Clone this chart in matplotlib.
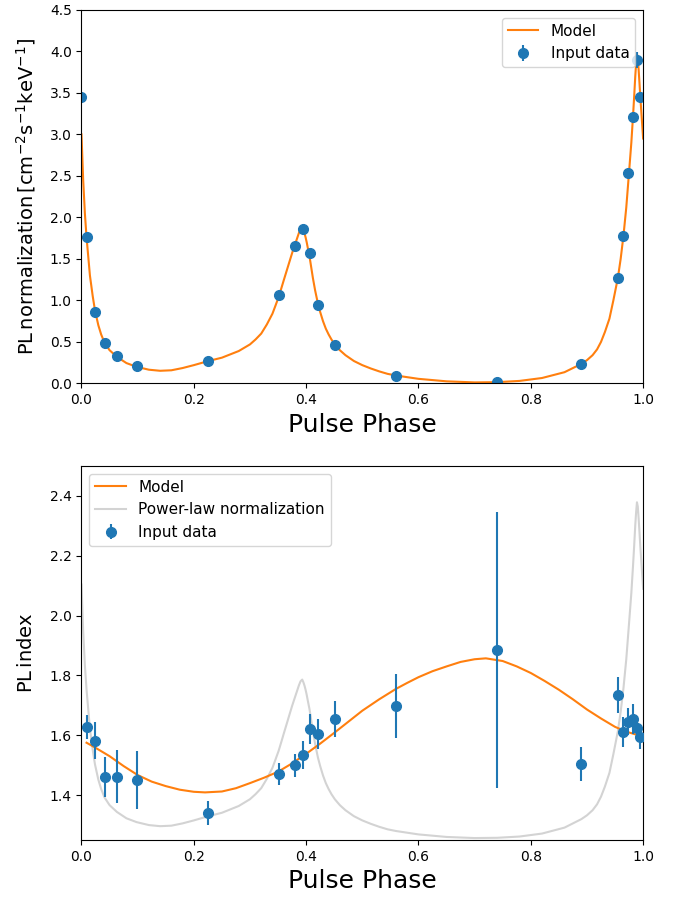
import numpy as np
import matplotlib
matplotlib.use("Agg")
import matplotlib.pyplot as plt

# measured phases (same for both panels, top has one extra point at 0.0)
phase = [0.009, 0.024, 0.041, 0.063, 0.098, 0.225, 0.351, 0.380, 0.395, 0.406,
         0.421, 0.451, 0.560, 0.7405, 0.8896, 0.955, 0.965, 0.973, 0.982, 0.989, 0.9947]

# PL normalization per phase bin
norm_phase = [0.0] + phase
norm_val = [3.455, 1.76, 0.86, 0.49, 0.33, 0.205, 0.273, 1.06, 1.65, 1.856, 1.57,
            0.95, 0.46, 0.088, 0.02, 0.233, 1.27, 1.77, 2.535, 3.21, 3.897, 3.455]
norm_err = [0.04, 0.04, 0.03, 0.02, 0.02, 0.02, 0.02, 0.03, 0.04, 0.04, 0.04,
            0.03, 0.02, 0.01, 0.01, 0.02, 0.03, 0.04, 0.05, 0.06, 0.10, 0.05]

# PL index per phase bin
index_val = [1.626, 1.581, 1.461, 1.461, 1.450, 1.341, 1.471, 1.500, 1.535, 1.622,
             1.604, 1.655, 1.698, 1.885, 1.503, 1.733, 1.612, 1.645, 1.653, 1.623, 1.595]
index_err = [0.040, 0.062, 0.067, 0.089, 0.096, 0.040, 0.037, 0.038, 0.047, 0.050,
             0.050, 0.060, 0.107, 0.460, 0.057, 0.060, 0.050, 0.045, 0.050, 0.040, 0.040]

# model curve for the normalization
norm_model_phase = [0.0, 0.003, 0.006, 0.009, 0.015, 0.02, 0.024, 0.03, 0.035, 0.041,
                    0.05, 0.063, 0.08, 0.098, 0.12, 0.14, 0.16, 0.18, 0.2, 0.225,
                    0.25, 0.28, 0.3, 0.31, 0.32, 0.33, 0.34, 0.345, 0.351, 0.356,
                    0.36, 0.365, 0.37, 0.375, 0.38, 0.384, 0.387, 0.39, 0.393, 0.395,
                    0.397, 0.399, 0.401, 0.403, 0.406, 0.409, 0.412, 0.416, 0.421, 0.425,
                    0.43, 0.435, 0.44, 0.445, 0.451, 0.46, 0.47, 0.485, 0.5, 0.515,
                    0.53, 0.545, 0.56, 0.6, 0.65, 0.7, 0.74, 0.78, 0.82, 0.86,
                    0.89, 0.9, 0.91, 0.918, 0.925, 0.932, 0.94, 0.947, 0.955, 0.96,
                    0.965, 0.97, 0.975, 0.979, 0.982, 0.984, 0.986, 0.9875, 0.989, 0.9905,
                    0.992, 0.9935, 0.995, 0.997, 1.0]
norm_model = [3.0, 2.45, 2.05, 1.76, 1.30, 1.05, 0.88, 0.70, 0.59, 0.49,
              0.40, 0.32, 0.245, 0.20, 0.165, 0.152, 0.158, 0.185, 0.22, 0.268,
              0.31, 0.39, 0.47, 0.53, 0.60, 0.71, 0.84, 0.93, 1.04, 1.15,
              1.24, 1.35, 1.46, 1.57, 1.67, 1.75, 1.81, 1.86, 1.88, 1.85,
              1.81, 1.76, 1.70, 1.63, 1.53, 1.40, 1.27, 1.12, 0.96, 0.86,
              0.75, 0.66, 0.59, 0.53, 0.47, 0.40, 0.34, 0.27, 0.22, 0.18,
              0.145, 0.115, 0.095, 0.055, 0.025, 0.012, 0.015, 0.03, 0.065, 0.135,
              0.235, 0.28, 0.34, 0.41, 0.50, 0.62, 0.78, 1.00, 1.27, 1.50,
              1.78, 2.12, 2.55, 2.90, 3.22, 3.45, 3.70, 3.85, 3.97, 3.92,
              3.78, 3.62, 3.45, 3.25, 2.95]

# model curve for the index
index_model_phase = [0.009, 0.025, 0.05, 0.075, 0.1, 0.125, 0.15, 0.175, 0.2, 0.22,
                     0.25, 0.275, 0.3, 0.325, 0.35, 0.375, 0.4, 0.425, 0.45, 0.475,
                     0.5, 0.53, 0.56, 0.58, 0.6, 0.625, 0.65, 0.675, 0.7, 0.72,
                     0.75, 0.775, 0.8, 0.825, 0.85, 0.875, 0.9, 0.925, 0.95, 0.97,
                     0.995]
index_model = [1.575, 1.558, 1.530, 1.497, 1.467, 1.445, 1.430, 1.418, 1.411, 1.409,
               1.412, 1.423, 1.440, 1.458, 1.478, 1.506, 1.538, 1.572, 1.608, 1.645,
               1.682, 1.720, 1.755, 1.775, 1.794, 1.814, 1.830, 1.845, 1.854, 1.857,
               1.848, 1.830, 1.808, 1.781, 1.752, 1.720, 1.686, 1.656, 1.628, 1.612,
               1.598]

# normalization model rescaled into the index panel
grey_offset = 1.253
grey_scale = 0.2835

fig = plt.figure(figsize=(6.82, 9.0), dpi=100)

ax1 = fig.add_axes([0.1195, 0.574, 0.8235, 0.415])
ax1.plot(norm_model_phase, norm_model, color='#ff7f0e', lw=1.5, label='Model')
ax1.errorbar(norm_phase, norm_val, yerr=norm_err, fmt='o', color='#1f77b4',
             ms=7, elinewidth=1.5, label='Input data')
ax1.set_xlim(0, 1)
ax1.set_ylim(0, 4.5)
ax1.set_xlabel('Pulse Phase', fontsize=18)
ax1.set_ylabel(r'$\rm PL\,normalization\,\left[cm^{-2}s^{-1}keV^{-1}\right]$',
               fontsize=14, labelpad=8.5)
ax1.tick_params(labelsize=10)
ax1.legend(loc='upper right', fontsize=11)

ax2 = fig.add_axes([0.1195, 0.0667, 0.8235, 0.4156])
ax2.plot(index_model_phase, index_model, color='#ff7f0e', lw=1.5, label='Model', zorder=2.5)
ax2.plot(norm_model_phase, grey_offset + grey_scale * np.array(norm_model),
         color='lightgray', lw=1.5, label='Power-law normalization')
ax2.errorbar(phase, index_val, yerr=index_err, fmt='o', color='#1f77b4',
             ms=7, elinewidth=1.5, label='Input data', zorder=3)
ax2.set_xlim(0, 1)
ax2.set_ylim(1.25, 2.5)
ax2.set_yticks([1.4, 1.6, 1.8, 2.0, 2.2, 2.4])
ax2.set_xlabel('Pulse Phase', fontsize=18)
ax2.set_ylabel(r'$\rm PL\,index$', fontsize=14, labelpad=9.5)
ax2.tick_params(labelsize=10)
ax2.legend(loc='upper left', fontsize=11)

fig.savefig('out.png', dpi=100)
